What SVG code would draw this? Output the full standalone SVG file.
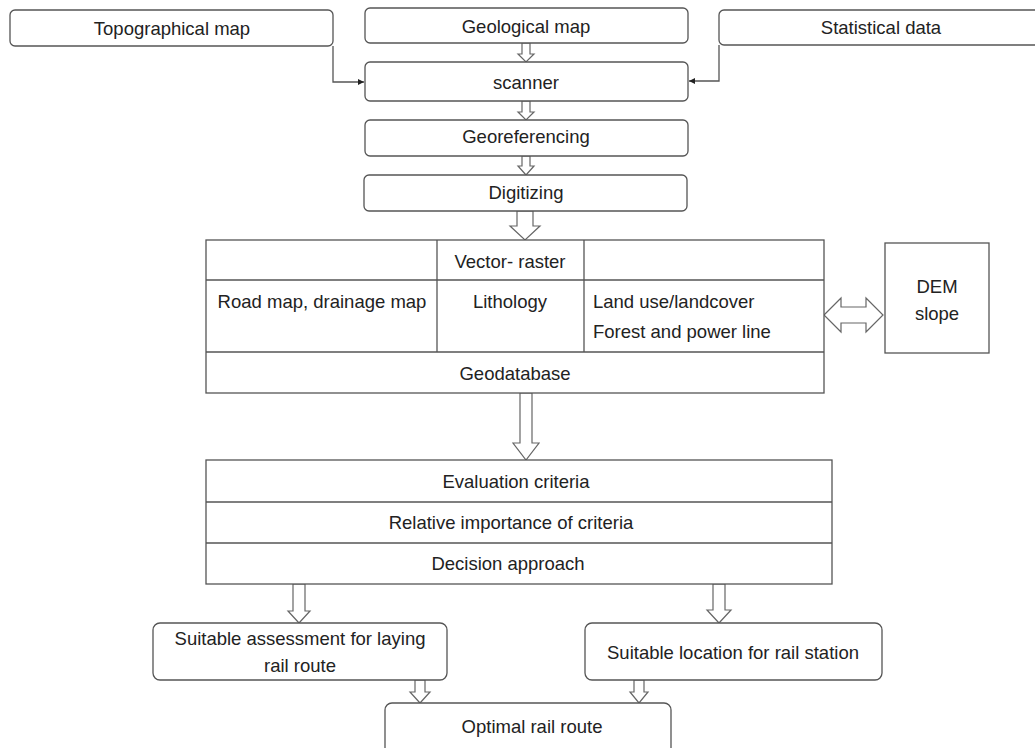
<svg xmlns="http://www.w3.org/2000/svg" width="1035" height="748" viewBox="0 0 1035 748">
<defs>
<style>
.box{fill:#fff;stroke:#555;stroke-width:1.3}
.ln{fill:none;stroke:#555;stroke-width:1.3}
.ba{fill:#fff;stroke:#666;stroke-width:1.2}
.t{font-family:"Liberation Sans",Arial,sans-serif;font-size:18.5px;fill:#222;text-anchor:middle}
.tl{font-family:"Liberation Sans",Arial,sans-serif;font-size:18.5px;fill:#222;text-anchor:start}
</style>
<marker id="ah" viewBox="0 0 10 10" refX="10" refY="5" markerWidth="6" markerHeight="6" orient="auto" markerUnits="userSpaceOnUse">
<path d="M0,0 L10,5 L0,10 Z" fill="#222"/>
</marker>
</defs>
<rect width="1035" height="748" fill="#fff"/>

<g id="connectors">
<polyline class="ln" points="333,46 333,82 364,82" marker-end="url(#ah)"/>
<polyline class="ln" points="719,45 719,81 689,81" marker-end="url(#ah)"/>
<path class="ba" d="M522,43 L530,43 L530,54 L534,54 L526,62 L518,54 L522,54 Z"/>
<path class="ba" d="M522,101 L530,101 L530,112 L534,112 L526,120 L518,112 L522,112 Z"/>
<path class="ba" d="M522,156 L530,156 L530,166 L534,166 L526,175 L518,166 L522,166 Z"/>
<path class="ba" d="M517,211 L533,211 L533,226 L540,226 L525,240 L510,226 L517,226 Z"/>
<path class="ba" d="M520,393 L532,393 L532,443 L539,443 L526,460 L513,443 L520,443 Z"/>
<path class="ba" d="M293,584 L305,584 L305,611 L310,611 L299,623 L288,611 L293,611 Z"/>
<path class="ba" d="M713,584 L725,584 L725,610 L731,610 L719,623 L707,610 L713,610 Z"/>
<path class="ba" d="M415,680 L425,680 L425,692 L430,692 L420,703 L410,692 L415,692 Z"/>
<path class="ba" d="M634,680 L644,680 L644,692 L648,692 L639,703 L630,692 L634,692 Z"/>
<path class="ba" d="M824,315 L841,298 L841,307 L866,307 L866,298 L883,315 L866,332 L866,323 L841,323 L841,332 Z"/>
</g>

<g id="topographical">
<rect class="box" x="10" y="10" width="323" height="36" rx="5"/>
<text class="t" x="172" y="35">Topographical map</text>
</g>
<g id="geological">
<rect class="box" x="365" y="8" width="323" height="35" rx="5"/>
<text class="t" x="526" y="33">Geological map</text>
</g>
<g id="statistical">
<rect class="box" x="719" y="10" width="330" height="35" rx="5"/>
<text class="t" x="881" y="34">Statistical data</text>
</g>
<g id="scanner">
<rect class="box" x="365" y="62" width="323" height="39" rx="5"/>
<text class="t" x="526" y="89">scanner</text>
</g>
<g id="georeferencing">
<rect class="box" x="365" y="120" width="323" height="36" rx="5"/>
<text class="t" x="526" y="143">Georeferencing</text>
</g>
<g id="digitizing">
<rect class="box" x="364" y="175" width="323" height="36" rx="5"/>
<text class="t" x="526" y="199">Digitizing</text>
</g>

<g id="geodatabase">
<rect class="box" x="206" y="240" width="618" height="153"/>
<line class="ln" x1="206" y1="280" x2="824" y2="280"/>
<line class="ln" x1="206" y1="352" x2="824" y2="352"/>
<line class="ln" x1="437" y1="240" x2="437" y2="352"/>
<line class="ln" x1="584" y1="240" x2="584" y2="352"/>
<text class="t" x="510" y="268">Vector- raster</text>
<text class="t" x="322" y="308">Road map, drainage map</text>
<text class="t" x="510" y="308">Lithology</text>
<text class="tl" x="593" y="308">Land use/landcover</text>
<text class="tl" x="593" y="338">Forest and power line</text>
<text class="t" x="515" y="380">Geodatabase</text>
</g>

<g id="dem">
<rect class="box" x="885" y="243" width="104" height="110"/>
<text class="t" x="937" y="293">DEM</text>
<text class="t" x="937" y="320">slope</text>
</g>

<g id="evaluation">
<rect class="box" x="206" y="460" width="626" height="124"/>
<line class="ln" x1="206" y1="502" x2="832" y2="502"/>
<line class="ln" x1="206" y1="543" x2="832" y2="543"/>
<text class="t" x="516" y="488">Evaluation criteria</text>
<text class="t" x="511" y="529">Relative importance of criteria</text>
<text class="t" x="508" y="570">Decision approach</text>
</g>

<g id="assessment">
<rect class="box" x="153" y="623" width="294" height="57" rx="7"/>
<text class="t" x="300" y="645">Suitable assessment for laying</text>
<text class="t" x="300" y="672">rail route</text>
</g>
<g id="location">
<rect class="box" x="585" y="623" width="297" height="57" rx="7"/>
<text class="t" x="733" y="659">Suitable location for rail station</text>
</g>
<g id="optimal">
<rect class="box" x="385" y="703" width="286" height="60" rx="7"/>
<text class="t" x="532" y="733">Optimal rail route</text>
</g>
</svg>
